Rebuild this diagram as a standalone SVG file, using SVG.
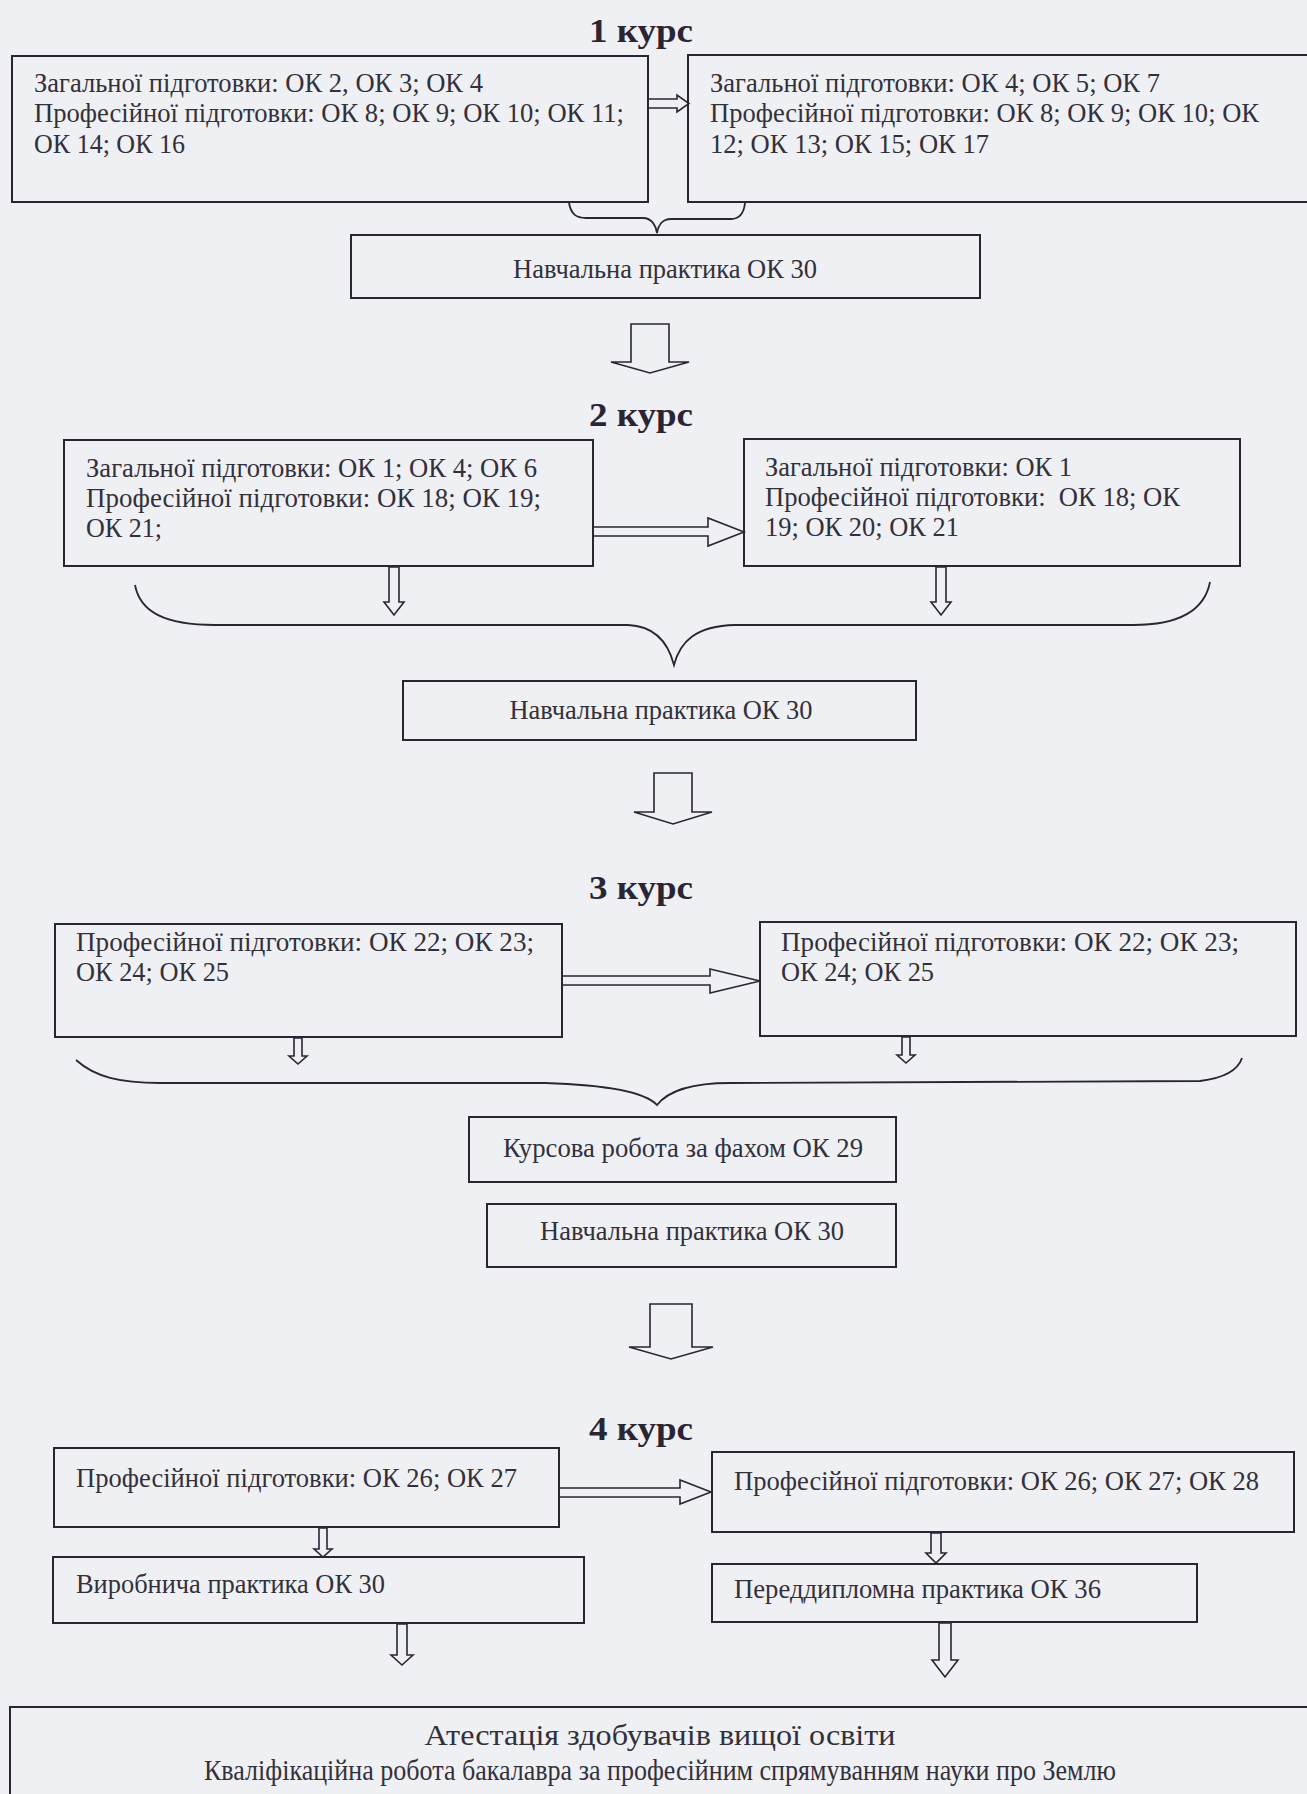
<svg xmlns="http://www.w3.org/2000/svg" width="1307" height="1794" viewBox="0 0 1307 1794">
<style>
.bg{fill:#eff0f4}
.box{fill:none;stroke:#2b2533;stroke-width:2}
.t{font-family:"Liberation Serif","Times New Roman",serif;font-size:27px;fill:#33303a}
.big{font-family:"Liberation Serif","Times New Roman",serif;font-size:29px;fill:#33303a}
.title{font-family:"Liberation Serif","Times New Roman",serif;font-size:34px;font-weight:bold;fill:#2b2533}
.c{text-anchor:middle}
.arr{fill:none;stroke:#2b2533;stroke-width:1.6;stroke-linejoin:miter}
.brace{fill:none;stroke:#2b2533;stroke-width:1.8}
</style>
<rect class="bg" x="0" y="0" width="1307" height="1794"/>

<g id="titles">
<text class="title c" x="641" y="42" textLength="104" lengthAdjust="spacingAndGlyphs">1 курс</text>
<text class="title c" x="641" y="426" textLength="104" lengthAdjust="spacingAndGlyphs">2 курс</text>
<text class="title c" x="641" y="899" textLength="104" lengthAdjust="spacingAndGlyphs">3 курс</text>
<text class="title c" x="641" y="1440" textLength="104" lengthAdjust="spacingAndGlyphs">4 курс</text>
</g>

<g id="node-a1">
<rect class="box" x="12" y="56" width="636" height="146"/>
<text class="t" x="34" y="92" textLength="449" lengthAdjust="spacingAndGlyphs">Загальної підготовки: ОК 2, ОК 3; ОК 4</text>
<text class="t" x="34" y="122" textLength="590" lengthAdjust="spacingAndGlyphs">Професійної підготовки: ОК 8; ОК 9; ОК 10; ОК 11;</text>
<text class="t" x="34" y="153" textLength="151" lengthAdjust="spacingAndGlyphs">ОК 14; ОК 16</text>
</g>
<g id="node-a2">
<rect class="box" x="688" y="55" width="630" height="147"/>
<text class="t" x="710" y="92" textLength="450" lengthAdjust="spacingAndGlyphs">Загальної підготовки: ОК 4; ОК 5; ОК 7</text>
<text class="t" x="710" y="122" textLength="549" lengthAdjust="spacingAndGlyphs">Професійної підготовки: ОК 8; ОК 9; ОК 10; ОК</text>
<text class="t" x="710" y="153" textLength="279" lengthAdjust="spacingAndGlyphs">12; ОК 13; ОК 15; ОК 17</text>
</g>
<g id="node-b1">
<rect class="box" x="351" y="235" width="629" height="63"/>
<text class="t c" x="665" y="278" textLength="304" lengthAdjust="spacingAndGlyphs">Навчальна практика ОК 30</text>
</g>

<g id="node-c1">
<rect class="box" x="64" y="440" width="529" height="126"/>
<text class="t" x="86" y="477" textLength="451" lengthAdjust="spacingAndGlyphs">Загальної підготовки: ОК 1; ОК 4; ОК 6</text>
<text class="t" x="86" y="507" textLength="455" lengthAdjust="spacingAndGlyphs">Професійної підготовки: ОК 18; ОК 19;</text>
<text class="t" x="86" y="537" textLength="76" lengthAdjust="spacingAndGlyphs">ОК 21;</text>
</g>
<g id="node-c2">
<rect class="box" x="744" y="439" width="496" height="127"/>
<text class="t" x="765" y="476" textLength="307" lengthAdjust="spacingAndGlyphs">Загальної підготовки: ОК 1</text>
<text class="t" x="765" y="506" textLength="415" lengthAdjust="spacingAndGlyphs" xml:space="preserve">Професійної підготовки:  ОК 18; ОК</text>
<text class="t" x="765" y="536" textLength="194" lengthAdjust="spacingAndGlyphs">19; ОК 20; ОК 21</text>
</g>
<g id="node-d1">
<rect class="box" x="403" y="681" width="513" height="59"/>
<text class="t c" x="661" y="719" textLength="303" lengthAdjust="spacingAndGlyphs">Навчальна практика ОК 30</text>
</g>

<g id="node-e1">
<rect class="box" x="55" y="924" width="507" height="113"/>
<text class="t" x="76" y="951" textLength="458" lengthAdjust="spacingAndGlyphs">Професійної підготовки: ОК 22; ОК 23;</text>
<text class="t" x="76" y="981" textLength="153" lengthAdjust="spacingAndGlyphs">ОК 24; ОК 25</text>
</g>
<g id="node-e2">
<rect class="box" x="760" y="922" width="536" height="114"/>
<text class="t" x="781" y="951" textLength="458" lengthAdjust="spacingAndGlyphs">Професійної підготовки: ОК 22; ОК 23;</text>
<text class="t" x="781" y="981" textLength="153" lengthAdjust="spacingAndGlyphs">ОК 24; ОК 25</text>
</g>
<g id="node-f1">
<rect class="box" x="469" y="1117" width="427" height="65"/>
<text class="t c" x="683" y="1157" textLength="360" lengthAdjust="spacingAndGlyphs">Курсова робота за фахом ОК 29</text>
</g>
<g id="node-f2">
<rect class="box" x="487" y="1204" width="409" height="63"/>
<text class="t c" x="692" y="1240" textLength="304" lengthAdjust="spacingAndGlyphs">Навчальна практика ОК 30</text>
</g>

<g id="node-g1">
<rect class="box" x="54" y="1448" width="505" height="79"/>
<text class="t" x="76" y="1487" textLength="441" lengthAdjust="spacingAndGlyphs">Професійної підготовки: ОК 26; ОК 27</text>
</g>
<g id="node-g2">
<rect class="box" x="712" y="1452" width="582" height="80"/>
<text class="t" x="734" y="1490" textLength="525" lengthAdjust="spacingAndGlyphs">Професійної підготовки: ОК 26; ОК 27; ОК 28</text>
</g>
<g id="node-h1">
<rect class="box" x="53" y="1557" width="531" height="66"/>
<text class="t" x="76" y="1593" textLength="309" lengthAdjust="spacingAndGlyphs">Виробнича практика ОК 30</text>
</g>
<g id="node-h2">
<rect class="box" x="712" y="1564" width="485" height="58"/>
<text class="t" x="734" y="1598" textLength="367" lengthAdjust="spacingAndGlyphs">Переддипломна практика ОК 36</text>
</g>
<g id="node-final">
<rect class="box" x="10" y="1707" width="1310" height="100"/>
<text class="big c" x="660" y="1745" textLength="471" lengthAdjust="spacingAndGlyphs">Атестація здобувачів вищої освіти</text>
<text class="big c" x="660" y="1780" textLength="912" lengthAdjust="spacingAndGlyphs">Кваліфікаційна робота бакалавра за професійним спрямуванням науки про Землю</text>
</g>

<g id="connectors">
<polyline class="arr" points="649,99 677,99 677,95 689,103.5 677,112 677,108 649,108"/>
<polyline class="arr" points="594,527 708,527 708,518 744,532 708,546 708,536 594,536"/>
<polyline class="arr" points="563,976 710,976 710,969 760,981 710,993 710,985 563,985"/>
<polyline class="arr" points="560,1488 680,1488 680,1480 711,1492 680,1504 680,1497 560,1497"/>
<path class="brace" d="M569,203 C571,214 576,218 586,218 L643,218 C652,218 656,226 657,233 C658,226 662,219 671,219 L731,219 C740,219 744,212 745,203"/>
<path class="brace" d="M135,585 C140,612 165,625 215,625 L628,625 C655,626 668,642 674,665 C680,642 695,626 735,625 L1133,625 C1182,625 1205,608 1210,582"/>
<path class="brace" d="M76,1060 C95,1077 120,1083 160,1083 L545,1083 C610,1085 645,1092 657,1105 C668,1091 690,1083 730,1083 L1200,1081 C1225,1078 1238,1070 1242,1058"/>
<polygon class="arr" points="631,324 669,324 669,362 689,362 650,373 611,362 631,362"/>
<polygon class="arr" points="654,773 692,773 692,812 712,812 673,824 634,812 654,812"/>
<polygon class="arr" points="650,1304 692,1304 692,1347 713,1347 671,1359 629,1347 650,1347"/>
<polygon class="arr" points="389,567 399,567 399,602 404,602 394,615 384,602 389,602"/>
<polygon class="arr" points="936,567 946,567 946,602 951,602 941,615 931,602 936,602"/>
<polygon class="arr" points="294,1038 302,1038 302,1056 307,1056 298,1064 289,1056 294,1056"/>
<polygon class="arr" points="902,1037 910,1037 910,1055 915,1055 906,1063 897,1055 902,1055"/>
<polygon class="arr" points="319,1528 327,1528 327,1549 332,1549 323,1557 314,1549 319,1549"/>
<polygon class="arr" points="931,1533 941,1533 941,1553 946,1553 936,1563 926,1553 931,1553"/>
<polygon class="arr" points="397,1624 407,1624 407,1655 413,1655 402,1665 391,1655 397,1655"/>
<polygon class="arr" points="939,1623 951,1623 951,1660 958,1660 945,1677 932,1660 939,1660"/>
</g>
</svg>
